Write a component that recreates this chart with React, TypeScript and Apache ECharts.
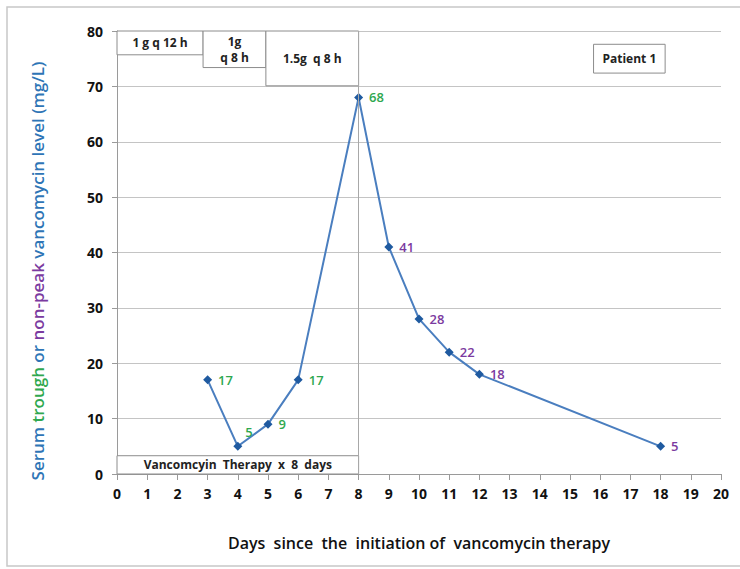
import React, { useEffect, useRef } from "react";
import * as echarts from "echarts";

const days = [3, 4, 5, 6, 8, 9, 10, 11, 12, 18];
const levels = [17, 5, 9, 17, 68, 41, 28, 22, 18, 5];
const levelKinds = ["trough", "trough", "trough", "trough", "trough", "nonpeak", "nonpeak", "nonpeak", "nonpeak", "nonpeak"];
const yTicks = { min: 0, max: 80, step: 10 };
const xTicks = { min: 0, max: 20, step: 1 };
const regimenBoxes = [
  { label: "1 g q 12 h", x0: 0, x1: 2.85, y0: 80, y1: 75.7 },
  { label: "1g\nq 8 h", x0: 2.85, x1: 4.93, y0: 80, y1: 73.4 },
  { label: "1.5g  q 8 h", x0: 4.93, x1: 8, y0: 80, y1: 70.1 },
  { label: "Patient 1", x0: 15.78, x1: 18.15, y0: 77.6, y1: 72.4 },
  { label: "Vancomcyin  Therapy  x  8  days", x0: 0, x1: 8, y0: 3.3, y1: 0 },
];
const therapyEndDay = 8;

const GREEN = "#2fa84f";
const PURPLE = "#7b3aa0";
const BLUE = "#2e75b6";
const FONT = "'Open Sans', 'Noto Sans', sans-serif";

export default function App() {
  const ref = useRef<HTMLDivElement>(null);
  useEffect(() => {
    if (!ref.current) return;
    const chart = echarts.init(ref.current, undefined, { renderer: "svg" });
    const lineData = days.map((d, i) => {
      const item: any = {
        value: [d, levels[i]],
        label: { color: levelKinds[i] === "trough" ? GREEN : PURPLE },
      };
      if (d === 4) {
        item.label.offset = [-3, -14];
      }
      return item;
    });
    const richStyle = (color: string) => ({
      fill: color,
      fontSize: 17,
      fontWeight: 600,
      fontFamily: FONT,
    });
    chart.setOption({
      animation: false,
      backgroundColor: "#ffffff",
      textStyle: { fontFamily: FONT },
      grid: { left: 117, right: 19, top: 31, bottom: 95 },
      graphic: [
        {
          type: "rect",
          shape: { x: 7, y: 7, width: 760, height: 559 },
          style: { fill: "none", stroke: "#c8c8c8", lineWidth: 1.5 },
          silent: true,
        },
        {
          type: "text",
          x: 37,
          y: 271,
          rotation: Math.PI / 2,
          silent: true,
          style: {
            text: "{b|Serum }{g|trough}{b| or }{p|non-peak}{b| vancomycin level (mg/L)}",
            align: "center",
            verticalAlign: "middle",
            fill: BLUE,
            fontSize: 17,
            fontFamily: FONT,
            rich: {
              b: richStyle(BLUE),
              g: richStyle(GREEN),
              p: richStyle(PURPLE),
            },
          },
        },
      ],
      xAxis: {
        type: "value",
        min: xTicks.min,
        max: xTicks.max,
        interval: xTicks.step,
        splitLine: { show: false },
        axisLine: { show: true, lineStyle: { color: "#9a9a9a", width: 1 } },
        axisTick: { show: true, length: 6, lineStyle: { color: "#9a9a9a" } },
        axisLabel: { color: "#111", fontSize: 14, fontWeight: 700, margin: 12, fontFamily: FONT },
        name: "Days  since  the  initiation of  vancomycin therapy",
        nameLocation: "middle",
        nameGap: 61,
        nameTextStyle: { color: "#111", fontSize: 16, fontWeight: 600, fontFamily: FONT },
      },
      yAxis: {
        type: "value",
        min: yTicks.min,
        max: yTicks.max,
        interval: yTicks.step,
        splitLine: { show: true, lineStyle: { color: "#c4c4c4", width: 1 } },
        axisLine: { show: true, lineStyle: { color: "#9a9a9a", width: 1 } },
        axisTick: { show: true, length: 5, lineStyle: { color: "#9a9a9a" } },
        axisLabel: { color: "#111", fontSize: 14, fontWeight: 700, margin: 14, fontFamily: FONT },
      },
      series: [
        {
          type: "line",
          data: [],
          silent: true,
          z: 1,
          markLine: {
            silent: true,
            symbol: "none",
            label: { show: false },
            lineStyle: { color: "#a8a8a8", width: 1, type: "solid" },
            data: [{ xAxis: therapyEndDay }],
          },
          markArea: {
            silent: true,
            itemStyle: { color: "#ffffff", borderColor: "#8c8c8c", borderWidth: 1 },
            label: {
              show: true,
              position: "inside",
              color: "#222",
              fontSize: 12,
              fontWeight: 700,
              fontFamily: FONT,
              lineHeight: 16,
            },
            data: regimenBoxes.map((b) => [
              { name: b.label, coord: [b.x0, b.y0] },
              { coord: [b.x1, b.y1] },
            ]),
          },
        },
        {
          type: "line",
          data: lineData,
          z: 3,
          smooth: false,
          lineStyle: { color: "#4a7ebf", width: 2 },
          itemStyle: { color: "#1f5aa0" },
          symbol: "diamond",
          symbolSize: 9,
          label: {
            show: true,
            position: "right",
            distance: 6,
            fontSize: 13,
            fontWeight: 600,
            fontFamily: FONT,
          },
        },
      ],
    });
    return () => chart.dispose();
  }, []);
  return (
    <div
      ref={ref}
      style={{ position: "absolute", left: 0, top: 0, width: 740, height: 569 }}
    />
  );
}
